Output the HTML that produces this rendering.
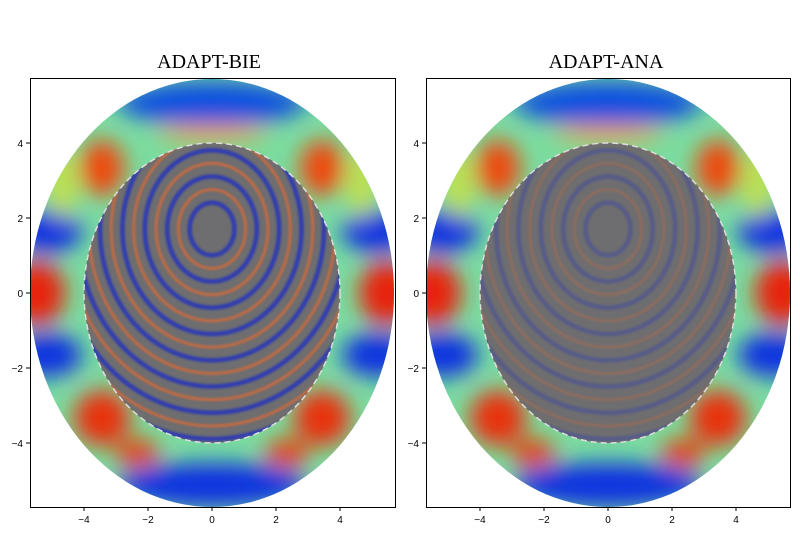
<!DOCTYPE html>
<html><head><meta charset="utf-8"><style>
html,body{margin:0;padding:0;background:#fff;}
svg text{font-family:"Liberation Sans",sans-serif;}
</style></head><body>
<svg width="800" height="533" viewBox="0 0 800 533" xmlns="http://www.w3.org/2000/svg">
<defs>
<clipPath id="outer"><ellipse cx="0" cy="0" rx="182" ry="214"/></clipPath>
<clipPath id="inner"><ellipse cx="0" cy="0" rx="128" ry="150"/></clipPath>
<filter id="bl" x="-50%" y="-50%" width="200%" height="200%"><feGaussianBlur stdDeviation="11"/></filter>
<filter id="bl2"><feGaussianBlur stdDeviation="1"/></filter>
<g id="outerfill">
<g clip-path="url(#outer)">
<rect x="-190" y="-220" width="380" height="440" fill="#7adca0"/>
<g filter="url(#bl)">
<ellipse cx="-175" cy="0" rx="28" ry="32" fill="#e82010"/>
<ellipse cx="175" cy="0" rx="28" ry="32" fill="#e82010"/>
<ellipse cx="-165" cy="-62" rx="35" ry="22" fill="#1030e0"/>
<ellipse cx="165" cy="-62" rx="35" ry="22" fill="#1030e0"/>
<ellipse cx="-165" cy="62" rx="35" ry="22" fill="#1030e0"/>
<ellipse cx="165" cy="62" rx="35" ry="22" fill="#1030e0"/>
<ellipse cx="-110" cy="-125" rx="22" ry="28" fill="#ee4a10"/>
<ellipse cx="110" cy="-125" rx="22" ry="28" fill="#ee4a10"/>
<ellipse cx="-110" cy="125" rx="28" ry="28" fill="#e83010"/>
<ellipse cx="110" cy="125" rx="28" ry="28" fill="#e83010"/>
<ellipse cx="0" cy="-190" rx="95" ry="22" fill="#1050e0"/>
<ellipse cx="0" cy="-160" rx="55" ry="8" fill="#f0a030"/>
<ellipse cx="0" cy="192" rx="95" ry="22" fill="#1030e0"/>
<ellipse cx="-75" cy="160" rx="22" ry="14" fill="#e84010"/>
<ellipse cx="75" cy="160" rx="22" ry="14" fill="#e84010"/>
<ellipse cx="-150" cy="-110" rx="16" ry="35" fill="#c0e050"/>
<ellipse cx="150" cy="-110" rx="16" ry="35" fill="#c0e050"/>
</g>
</g>
</g>
<g id="rings" transform="translate(0,-64)" fill="none">
<g stroke="#2030c0" stroke-width="4.5">
<ellipse rx="22.4" ry="26.25"/><ellipse rx="44.8" ry="52.5"/><ellipse rx="67.2" ry="78.75"/><ellipse rx="89.6" ry="105"/><ellipse rx="112" ry="131.25"/><ellipse rx="134.4" ry="157.5"/><ellipse rx="156.8" ry="183.75"/><ellipse rx="179.2" ry="210"/>
</g>
<g stroke="#d86a38" stroke-width="3">
<ellipse rx="33.6" ry="39.4"/><ellipse rx="56" ry="65.6"/><ellipse rx="78.4" ry="91.9"/><ellipse rx="100.8" ry="118.1"/><ellipse rx="123.2" ry="144.4"/><ellipse rx="145.6" ry="170.6"/><ellipse rx="168" ry="196.9"/>
</g>
</g>
</defs>

<text x="209" y="68" font-size="20" text-anchor="middle" style="font-family:'Liberation Serif',serif">ADAPT-BIE</text>
<g transform="translate(212,293)">
<use href="#outerfill"/>
<g clip-path="url(#inner)">
<rect x="-130" y="-152" width="260" height="304" fill="#6e6e70"/>
<g filter="url(#bl2)" opacity="0.8"><use href="#rings"/></g>
</g>
<ellipse rx="128" ry="150" fill="none" stroke="#ddd" stroke-width="1.5" stroke-dasharray="6,4"/>
</g>
<rect x="30.5" y="78.5" width="365" height="429" fill="none" stroke="#000" stroke-width="1"/>
<g font-size="10" fill="#000">
<g stroke="#000"><line x1="84" y1="507" x2="84" y2="511"/><line x1="148" y1="507" x2="148" y2="511"/><line x1="212" y1="507" x2="212" y2="511"/><line x1="276" y1="507" x2="276" y2="511"/><line x1="340" y1="507" x2="340" y2="511"/>
<line x1="26" y1="143" x2="30" y2="143"/><line x1="26" y1="218" x2="30" y2="218"/><line x1="26" y1="293" x2="30" y2="293"/><line x1="26" y1="368" x2="30" y2="368"/><line x1="26" y1="443" x2="30" y2="443"/></g>
<text x="84" y="523" text-anchor="middle">−4</text><text x="148" y="523" text-anchor="middle">−2</text><text x="212" y="523" text-anchor="middle">0</text><text x="276" y="523" text-anchor="middle">2</text><text x="340" y="523" text-anchor="middle">4</text>
<text x="23" y="147" text-anchor="end">4</text><text x="23" y="222" text-anchor="end">2</text><text x="23" y="297" text-anchor="end">0</text><text x="23" y="372" text-anchor="end">−2</text><text x="23" y="447" text-anchor="end">−4</text>
</g>

<text x="606" y="68" font-size="20" text-anchor="middle" style="font-family:'Liberation Serif',serif">ADAPT-ANA</text>
<g transform="translate(608,293)">
<use href="#outerfill"/>
<g clip-path="url(#inner)">
<rect x="-130" y="-152" width="260" height="304" fill="#6e6e70"/>
<g filter="url(#bl2)" opacity="0.3"><use href="#rings"/></g>
</g>
<ellipse rx="128" ry="150" fill="none" stroke="#ddd" stroke-width="1.5" stroke-dasharray="6,4"/>
</g>
<rect x="426.5" y="78.5" width="364" height="429" fill="none" stroke="#000" stroke-width="1"/>
<g font-size="10" fill="#000">
<g stroke="#000"><line x1="480" y1="507" x2="480" y2="511"/><line x1="544" y1="507" x2="544" y2="511"/><line x1="608" y1="507" x2="608" y2="511"/><line x1="672" y1="507" x2="672" y2="511"/><line x1="736" y1="507" x2="736" y2="511"/>
<line x1="422" y1="143" x2="426" y2="143"/><line x1="422" y1="218" x2="426" y2="218"/><line x1="422" y1="293" x2="426" y2="293"/><line x1="422" y1="368" x2="426" y2="368"/><line x1="422" y1="443" x2="426" y2="443"/></g>
<text x="480" y="523" text-anchor="middle">−4</text><text x="544" y="523" text-anchor="middle">−2</text><text x="608" y="523" text-anchor="middle">0</text><text x="672" y="523" text-anchor="middle">2</text><text x="736" y="523" text-anchor="middle">4</text>
<text x="419" y="147" text-anchor="end">4</text><text x="419" y="222" text-anchor="end">2</text><text x="419" y="297" text-anchor="end">0</text><text x="419" y="372" text-anchor="end">−2</text><text x="419" y="447" text-anchor="end">−4</text>
</g>
</svg>
</body></html>
